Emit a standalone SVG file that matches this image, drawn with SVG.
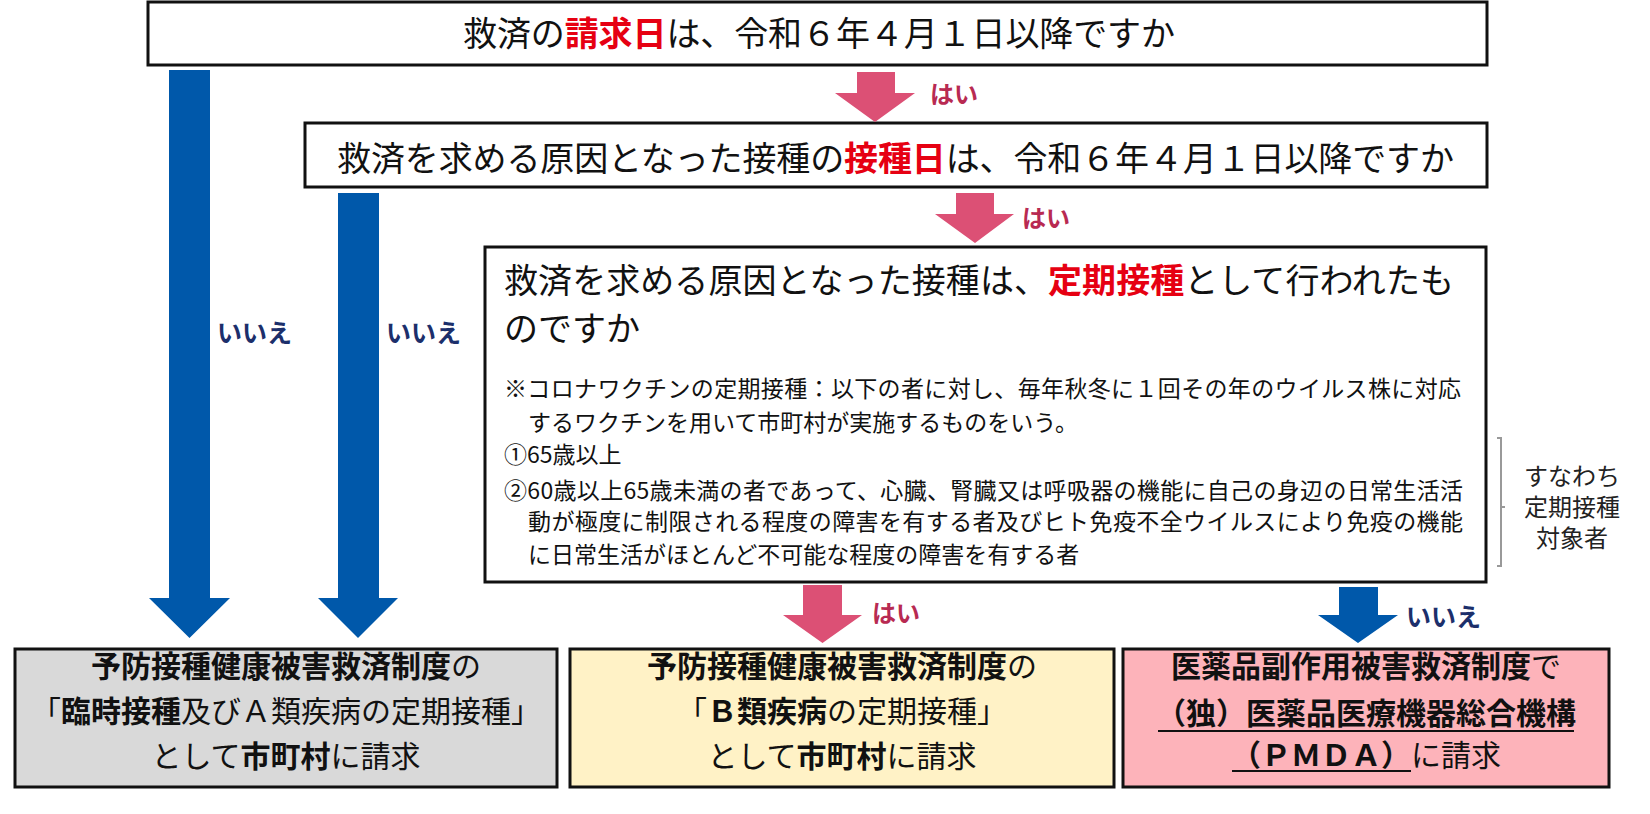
<svg xmlns="http://www.w3.org/2000/svg" width="1650" height="814" viewBox="0 0 1650 814">
<style>
text{font-family:"Noto Sans CJK JP","Noto Sans CJK SC",sans-serif;fill:#111;}
.box{fill:#fff;stroke:#111;stroke-width:3;}
.q{font-size:34px;}
.red{fill:#e60012;font-weight:bold;}
.note{font-size:23px;}
.yes{font-size:24px;font-weight:bold;fill:#b82a52;}
.no{font-size:25px;font-weight:bold;fill:#1c2f6b;}
.pa{fill:#dc5075;}
.ba{fill:#0058aa;}
.res{font-size:30px;text-anchor:middle;}
.b{font-weight:bold;}
.side{font-size:24px;text-anchor:middle;fill:#222;}
</style>
<rect width="1650" height="814" fill="#fff"/>

<g id="q1">
<rect class="box" x="148" y="2" width="1339" height="63"/>
<text class="q" x="463" y="46" textLength="712">救済の<tspan class="red">請求日</tspan>は、令和６年４月１日以降ですか</text>
</g>

<g id="q2">
<rect class="box" x="305" y="123" width="1182" height="64"/>
<text class="q" x="337" y="171" textLength="1117">救済を求める原因となった接種の<tspan class="red">接種日</tspan>は、令和６年４月１日以降ですか</text>
</g>

<g id="q3">
<rect class="box" x="485" y="247" width="1001" height="335"/>
<text class="q" x="504" y="293" textLength="950">救済を求める原因となった接種は、<tspan class="red">定期接種</tspan>として行われたも</text>
<text class="q" x="504" y="341">のですか</text>
<text class="note" x="504" y="397" textLength="957">※コロナワクチンの定期接種：以下の者に対し、毎年秋冬に１回その年のウイルス株に対応</text>
<text class="note" x="528" y="431">するワクチンを用いて市町村が実施するものをいう。</text>
<text class="note" x="504" y="463">①65歳以上</text>
<text class="note" x="504" y="499" textLength="959">②60歳以上65歳未満の者であって、心臓、腎臓又は呼吸器の機能に自己の身辺の日常生活活</text>
<text class="note" x="528" y="530" textLength="935">動が極度に制限される程度の障害を有する者及びヒト免疫不全ウイルスにより免疫の機能</text>
<text class="note" x="528" y="563">に日常生活がほとんど不可能な程度の障害を有する者</text>
</g>

<g id="bracket">
<path d="M1497,438 H1501 V566 H1497 M1501,507 H1505" fill="none" stroke="#999" stroke-width="2"/>
<text class="side"><tspan x="1572" y="485">すなわち</tspan><tspan x="1572" y="516">定期接種</tspan><tspan x="1572" y="547">対象者</tspan></text>
</g>

<g id="r1">
<rect x="15" y="649" width="542" height="138" fill="#d9d9d9" stroke="#111" stroke-width="3"/>
<text class="res" x="286" y="677"><tspan class="b">予防接種健康被害救済制度</tspan>の</text>
<text class="res" x="286" y="722">「<tspan class="b">臨時接種</tspan>及びＡ類疾病の定期接種」</text>
<text class="res" x="286" y="767">として<tspan class="b">市町村</tspan>に請求</text>
</g>

<g id="r2">
<rect x="570" y="649" width="544" height="138" fill="#fff2c6" stroke="#111" stroke-width="3"/>
<text class="res" x="842" y="677"><tspan class="b">予防接種健康被害救済制度</tspan>の</text>
<text class="res" x="842" y="722">「<tspan class="b">Ｂ類疾病</tspan>の定期接種」</text>
<text class="res" x="842" y="767">として<tspan class="b">市町村</tspan>に請求</text>
</g>

<g id="r3">
<rect x="1123" y="649" width="486" height="138" fill="#fdb3ba" stroke="#111" stroke-width="3"/>
<text class="res" x="1366" y="677"><tspan class="b">医薬品副作用被害救済制度</tspan>で</text>
<text class="res b" x="1366" y="724">（独）医薬品医療機器総合機構</text>
<line x1="1158" y1="731" x2="1574" y2="731" stroke="#111" stroke-width="2"/>
<text class="res" x="1366" y="766"><tspan class="b">（ＰＭＤＡ）</tspan>に請求</text>
<line x1="1232" y1="771" x2="1411" y2="771" stroke="#111" stroke-width="2"/>
</g>

<g id="connectors">
<polygon class="ba" points="169,70 210,70 210,598 230,598 189.5,638 149,598 169,598"/>
<polygon class="ba" points="338,193 379,193 379,598 398,598 358,638 318,598 338,598"/>
<polygon class="pa" points="857,72 895,72 895,93 915,93 875,122 835,93 857,93"/>
<polygon class="pa" points="956,193 994,193 994,214 1014,214 975,243 935,214 956,214"/>
<polygon class="pa" points="803,585 842,585 842,615 862,615 822.5,643 783,615 803,615"/>
<polygon class="ba" points="1339,587 1378,587 1378,615 1398,615 1358,643 1318,615 1339,615"/>
<text class="yes" x="930" y="103">はい</text>
<text class="yes" x="1022" y="227">はい</text>
<text class="yes" x="872" y="622">はい</text>
<text class="no" x="1406" y="626">いいえ</text>
<text class="no" x="217" y="342">いいえ</text>
<text class="no" x="386" y="342">いいえ</text>
</g>
</svg>
